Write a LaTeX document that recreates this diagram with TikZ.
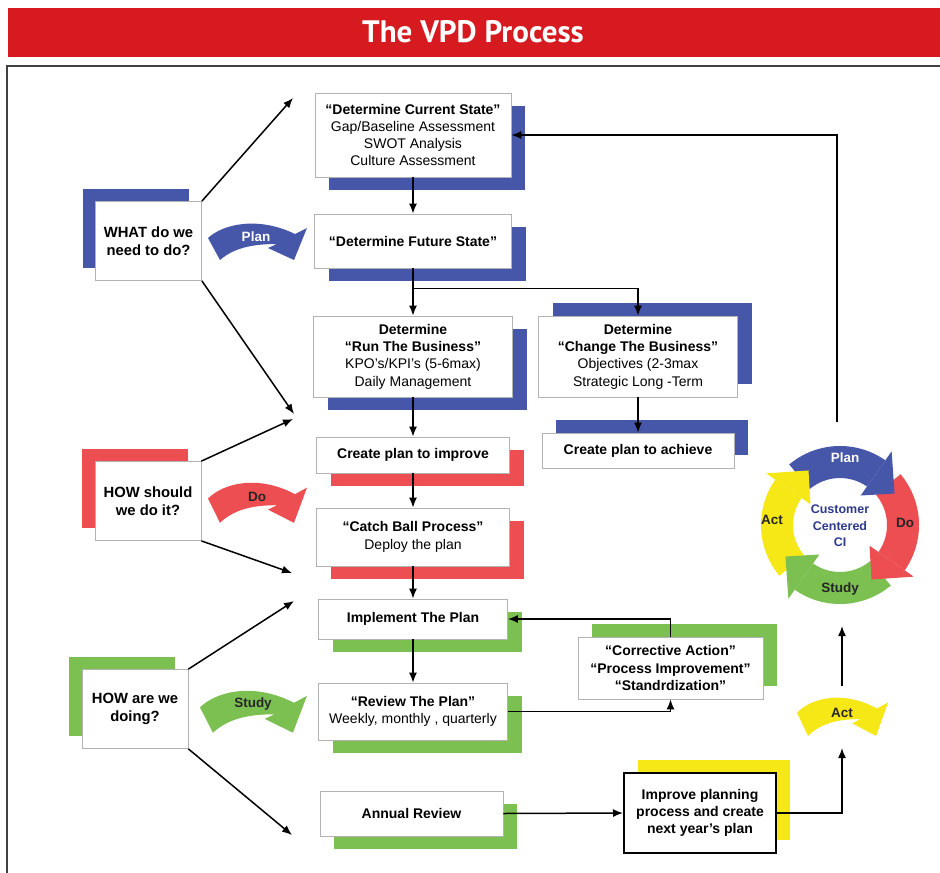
\documentclass[tikz,border=0pt]{standalone}
\usepackage{fontspec}
\setmainfont{Liberation Sans}
\newfontfamily\titlefont{PT Sans}
\usetikzlibrary{shadows,arrows.meta,calc}
\definecolor{cblue}{RGB}{70,86,168}
\definecolor{cred}{RGB}{236,78,82}
\definecolor{cgreen}{RGB}{124,192,82}
\definecolor{cyellow}{RGB}{246,232,22}
\definecolor{tred}{RGB}{215,25,32}
\definecolor{navy}{RGB}{46,58,140}
\newcommand\fsz{\fontsize{14}{17.3}\selectfont}
\newcommand\fsl{\fontsize{14.8}{17.5}\selectfont\bfseries}
\newcommand\bentarr[4]{%
  \fill[#4, shift={#1}, xscale=#2, yscale=#3] (0,16) .. controls (15,2) and (50,-6) .. (87,12) -- (99,6) -- (86,38) -- (60,26) -- (69,22) .. controls (50,22) and (28,24) .. (12,38) -- cycle;}
\begin{document}
\begin{tikzpicture}[x=1pt,y=-1pt,
  box/.style={draw=gray!60, line width=0.8pt, fill=white, align=center, inner sep=0pt, font=\fsz},
  shBR/.style={general shadow={fill=#1, shadow xshift=14pt, shadow yshift=-13pt}},
  shTR/.style={general shadow={fill=#1, shadow xshift=14pt, shadow yshift=13pt}},
  shTL/.style={general shadow={fill=#1, shadow xshift=-13pt, shadow yshift=13pt}},
  lbox/.style={box, font=\fsl, minimum width=106pt, minimum height=79pt},
  arr/.style={line width=1.5pt, -{Latex[length=10pt,width=8pt]}},
  lbl/.style={font=\fontsize{13.5}{15}\selectfont\bfseries}
]
\useasboundingbox (0,0) rectangle (940,873);
\fill[white] (0,0) rectangle (940,873);
% title
\fill[tred] (8,8) rectangle (945,57);
\node[text=white, font=\titlefont\fontsize{31}{31}\selectfont\bfseries] (title) at (473,32) {The VPD Process};
% frame
\draw[gray!50!black, line width=1.5pt] (7,900) -- (7,66) -- (950,66);

% main column
\node[box, shBR=cblue, minimum width=196pt, minimum height=84pt] (cur) at (413,135)
  {\textbf{“Determine Current State”}\\Gap/Baseline Assessment\\SWOT Analysis\\Culture Assessment};
\node[box, shBR=cblue, minimum width=197pt, minimum height=54pt] (fut) at (413,241)
  {\textbf{“Determine Future State”}};
\node[box, shBR=cblue, minimum width=199pt, minimum height=81pt] (run) at (413,356.5)
  {\textbf{Determine}\\\textbf{“Run The Business”}\\KPO's/KPI's (5-6max)\\Daily Management};
\node[box, shTR=cblue, minimum width=199pt, minimum height=81pt] (chg) at (638,356.5)
  {\textbf{Determine}\\\textbf{“Change The Business”}\\Objectives (2-3max\\Strategic Long -Term};
\node[box, shTR=cblue, minimum width=192pt, minimum height=35pt] (ach) at (638,450.5)
  {\textbf{Create plan to achieve}};
\node[box, shBR=cred, minimum width=193pt, minimum height=36pt] (imp) at (413,455)
  {\textbf{Create plan to improve}};
\node[box, shBR=cred, minimum width=193pt, minimum height=58pt] (catch) at (413,537)
  {\textbf{“Catch Ball Process”}\\Deploy the plan};
\node[box, shBR=cgreen, minimum width=189pt, minimum height=40pt] (impl) at (413,619)
  {\textbf{Implement The Plan}};
\node[box, shBR=cgreen, minimum width=189pt, minimum height=57pt] (rev) at (413,711.5)
  {\textbf{“Review The Plan”}\\Weekly, monthly , quarterly};
\node[box, shTR=cgreen, minimum width=185pt, minimum height=62pt] (corr) at (670.5,668)
  {\textbf{“Corrective Action”}\\\textbf{“Process Improvement”}\\\textbf{“Standrdization”}};
\node[box, shBR=cgreen, minimum width=183pt, minimum height=45pt] (ann) at (411.5,813.5)
  {\textbf{Annual Review}};
\node[box, draw=black, line width=2pt, shTR=cyellow, minimum width=152pt, minimum height=80pt] (impr) at (700,813)
  {\textbf{Improve planning}\\\textbf{process and create}\\\textbf{next year's plan}};

% left boxes
\node[lbox, shTL=cblue] (what) at (148.5,241) {WHAT do we\\need to do?};
\node[lbox, shTL=cred] (how1) at (148,501) {HOW should\\we do it?};
\node[lbox, shTL=cgreen] (how2) at (135,709) {HOW are we\\doing?};

% bent arrows
\bentarr{(208,222)}{1}{1}{cblue}
\bentarr{(208,481)}{1}{1.1}{cred}
\bentarr{(200,689)}{1.08}{1.15}{cgreen}
\bentarr{(797,696)}{0.92}{1.05}{cyellow}
\node[lbl, text=white] (lplan) at (256,237) {Plan};
\node[lbl, text=black!85] (ldo) at (257,497) {Do};
\node[lbl, text=black!85] (lstudy) at (253,704) {Study};
\node[lbl, text=black!85] (lact) at (842,713) {Act};

% cycle
\coordinate (C) at (840,525);
\foreach \t/\c [evaluate=\t as \b using \t+75] in {230/cblue, 320/cred, 50/cgreen, 140/cyellow} {
  \fill[\c] ($(C)+(\t:79)$) arc[start angle=\t, end angle=\b, radius=79] -- ($(C)+(\b:47)$) arc[start angle=\b, end angle=\t, radius=47] -- cycle;
}
\foreach \t/\c [evaluate=\t as \b using \t+75, evaluate=\t as \e using \t+100] in {230/cblue, 320/cred, 50/cgreen, 140/cyellow} {
  \fill[\c] ($(C)+(\b:90)$) -- ($(C)+(\e:63)$) -- ($(C)+(\b:36)$) -- cycle;
}
\node[lbl, text=white] (cplan) at (845,458) {Plan};
\node[lbl, text=black!85] (cdo) at (905,523) {Do};
\node[lbl, text=black!85] (cstudy) at (840,589) {Study};
\node[lbl, text=black!85] (cact) at (772,520) {Act};
\node[lbl, text=navy, align=center, font=\fontsize{12.5}{16.5}\selectfont\bfseries] (cc) at (840,526) {Customer\\Centered\\CI};

% free-end coordinates
\coordinate (a1) at (293,98);
\coordinate (a2) at (294,414);
\coordinate (a3) at (293,419);
\coordinate (a4) at (292,573);
\coordinate (a5) at (294,601);
\coordinate (a6) at (292,835);
\coordinate (actlow) at (842,748);
\coordinate (acthigh) at (842,686);
\coordinate (cyclebot) at (842,626);
\coordinate (cycletop) at (837,422);

% connectors
\draw[arr] (cur.south) -- (fut.north);
\draw[arr] (fut.south) -- (run.north);
\draw[arr] (fut.south) -- ++(0,20) -| (chg.north);
\draw[arr] (run.south) -- (imp.north);
\draw[arr] (chg.south) -- (ach.north);
\draw[arr] (imp.south) -- (catch.north);
\draw[arr] (catch.south) -- (impl.north);
\draw[arr] (impl.south) -- (rev.north);
\draw[arr] (rev.east) -| (corr.south);
\draw[arr] (corr.north) |- (impl.east);
\draw[arr] (ann.east) -- (impr.west);
\draw[arr] (impr.east) -| (actlow);
\draw[arr] (acthigh) -- (cyclebot);
\draw[arr] (cycletop) |- (cur.east);
\draw[arr] (what.north east) -- (a1);
\draw[arr] (what.south east) -- (a2);
\draw[arr] (how1.north east) -- (a3);
\draw[arr] (how1.south east) -- (a4);
\draw[arr] (how2.north east) -- (a5);
\draw[arr] (how2.south east) -- (a6);
\end{tikzpicture}
\end{document}
